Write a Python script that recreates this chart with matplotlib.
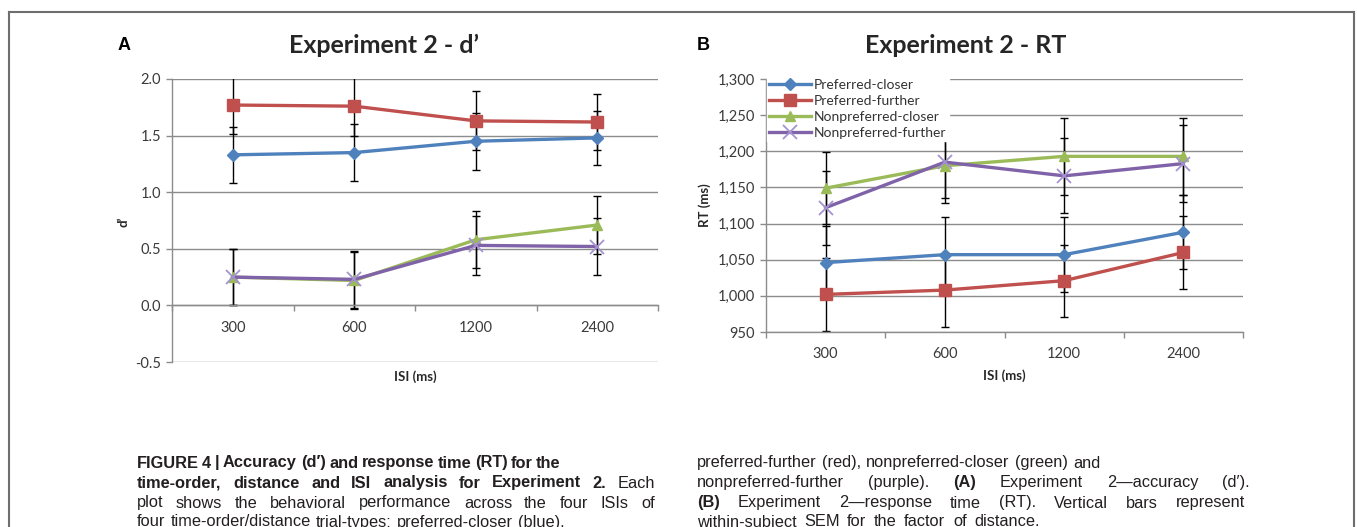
import numpy as np
import matplotlib
matplotlib.use('Agg')
import matplotlib.pyplot as plt
from matplotlib.lines import Line2D
from matplotlib.ticker import FuncFormatter

# ---- data ----
isi = ['300', '600', '1200', '2400']
series = ['Preferred-closer', 'Preferred-further', 'Nonpreferred-closer', 'Nonpreferred-further']

# panel A, d'
d_pc = [1.33, 1.35, 1.45, 1.48]
d_pf = [1.77, 1.76, 1.63, 1.62]
d_nc = [0.25, 0.22, 0.58, 0.71]
d_nf = [0.25, 0.23, 0.53, 0.52]
d_pc_err = [0.25, 0.25, 0.25, 0.24]
d_pf_err = [0.26, 0.26, 0.26, 0.25]
d_nc_err = [0.25, 0.25, 0.25, 0.26]
d_nf_err = [0.25, 0.25, 0.26, 0.25]

# panel B, RT (ms)
rt_pc = [1046, 1057, 1057, 1088]
rt_pf = [1002, 1008, 1021, 1060]
rt_nc = [1149, 1180, 1193, 1193]
rt_nf = [1122, 1185, 1166, 1183]
rt_pc_err = [50, 52, 52, 51]
rt_pf_err = [50, 51, 50, 51]
rt_nc_err = [50, 51, 53, 53]
rt_nf_err = [51, 50, 52, 53]

colors = ['#4F81BD', '#C0504D', '#9BBB59', '#7F62A8']
markers = ['D', 's', '^', 'x']
msizes = [6, 8.5, 7.5, 9.5]
mcolors = ['#4F81BD', '#C0504D', '#9BBB59', '#A593CF']

W, H = 1357, 527
fig = plt.figure(figsize=(W / 100, H / 100), dpi=100)
fig.patch.set_facecolor('white')

def fx(x):
    return x / W

def fy(y):
    return 1 - y / H

def ax_at(x0, y0, x1, y1):
    return fig.add_axes([fx(x0), fy(y1), fx(x1) - fx(x0), fy(y0) - fy(y1)])

chart_font = ['Lato', 'DejaVu Sans']
grey = '#8C8C8C'
tick_col = '#3A3A3A'

def style_axes(ax, ylo, yhi, step, bottom_at):
    x = np.arange(1, len(isi) + 1)
    ax.set_xlim(0.5, len(isi) + 0.5)
    ax.set_ylim(ylo, yhi)
    ax.set_yticks(np.arange(ylo, yhi + step / 2, step))
    ax.set_xticks(x)
    ax.set_xticklabels(isi)
    ax.set_xticks(np.arange(0.5, len(isi) + 1), minor=True)
    ax.tick_params(axis='x', which='major', length=0, pad=11, labelsize=10.5, labelcolor=tick_col)
    ax.tick_params(axis='x', which='minor', length=4, color=grey, width=1)
    ax.tick_params(axis='y', length=4, color=grey, width=1, labelsize=10.5, labelcolor=tick_col, pad=4)
    for s in ['top', 'right']:
        ax.spines[s].set_visible(False)
    ax.spines['left'].set_color(grey)
    ax.spines['bottom'].set_color(grey)
    ax.spines['left'].set_linewidth(1)
    ax.spines['bottom'].set_linewidth(1)
    ax.spines['bottom'].set_position(('data', bottom_at))
    ax.yaxis.grid(True, color=grey, lw=1)
    ax.set_axisbelow(True)
    ax.patch.set_alpha(0)
    for lab in ax.get_xticklabels() + ax.get_yticklabels():
        lab.set_family(chart_font)

def draw(ax, vals, errs):
    x = np.arange(1, len(isi) + 1)
    handles = []
    for i, (v, e) in enumerate(zip(vals, errs)):
        ax.errorbar(x, v, yerr=e, fmt='none', ecolor='black', elinewidth=1,
                    capsize=3.2, capthick=1, zorder=2, clip_on=True)
        h, = ax.plot(x, v, color=colors[i], lw=2.4, marker=markers[i], ms=msizes[i],
                     mfc=mcolors[i], mec=mcolors[i], mew=1.3 if markers[i] == 'x' else 1,
                     zorder=3 + i, label=series[i])
        handles.append(h)
    return handles

# panel A
axA = ax_at(172, 79, 658, 362)
style_axes(axA, -0.5, 2.0, 0.5, 0)
axA.yaxis.set_major_formatter(FuncFormatter(lambda v, p: '%.1f' % v))
draw(axA, [d_pc, d_pf, d_nc, d_nf], [d_pc_err, d_pf_err, d_nc_err, d_nf_err])

# panel B
axB = ax_at(766, 79, 1243, 332)
style_axes(axB, 950, 1300, 50, 950)
axB.yaxis.set_major_formatter(FuncFormatter(lambda v, p: '{:,.0f}'.format(v)))
hB = draw(axB, [rt_pc, rt_pf, rt_nc, rt_nf], [rt_pc_err, rt_pf_err, rt_nc_err, rt_nf_err])
leg = axB.legend(handles=hB, loc='upper left', bbox_to_anchor=(0.0, 1.015), frameon=True,
                 fancybox=False, framealpha=1, facecolor='white', edgecolor='white',
                 prop={'family': chart_font, 'size': 10}, handlelength=3.0,
                 handletextpad=0.2, labelspacing=0.3, borderpad=0.15, borderaxespad=0.1)
leg.set_zorder(10)
for t in leg.get_texts():
    t.set_color('#333333')

# titles, panel letters and axis labels
fig.text(fx(384), fy(45), 'Experiment 2 - d\u2019', ha='center', va='center',
         fontsize=18, fontweight='bold', family=chart_font, color='#262626')
fig.text(fx(966), fy(45), 'Experiment 2 - RT', ha='center', va='center',
         fontsize=18, fontweight='bold', family=chart_font, color='#262626')
fig.text(fx(124), fy(45), 'A', ha='center', va='center', fontsize=13,
         fontweight='bold', family='Liberation Sans')
fig.text(fx(703), fy(45), 'B', ha='center', va='center', fontsize=13,
         fontweight='bold', family='Liberation Sans')
fig.text(fx(123), fy(222), 'd\u2019', rotation=90, ha='center', va='center',
         fontsize=9.5, fontweight='bold', family=chart_font, color='#262626')
fig.text(fx(705), fy(205), 'RT (ms)', rotation=90, ha='center', va='center',
         fontsize=9.5, fontweight='bold', family=chart_font, color='#262626')
fig.text(fx(415), fy(377), 'ISI (ms)', ha='center', va='center',
         fontsize=9.5, fontweight='bold', family=chart_font, color='#262626')
fig.text(fx(1004), fy(376), 'ISI (ms)', ha='center', va='center',
         fontsize=9.5, fontweight='bold', family=chart_font, color='#262626')

# outer frame
for xs, ys in [([9, 1354], [12, 12]), ([9, 9], [12, 527]), ([1354, 1354], [12, 527])]:
    fig.add_artist(Line2D([fx(v) for v in xs], [fy(v) for v in ys],
                          transform=fig.transFigure, color='#6E6E6E', lw=1.5))

# caption, two columns, words spread to each line's width
cap_font = ['Liberation Sans', 'DejaVu Sans']
renderer = fig.canvas.get_renderer()

def put_line(text, x0, x1, y, bold_words=0, bold_set=()):
    words = text.split(' ')
    items = []
    for i, w in enumerate(words):
        b = i < bold_words or w in bold_set
        t = fig.text(0, fy(y + 4.5), w, fontsize=11.8, fontweight='bold' if b else 'normal',
                     family=cap_font, va='baseline', ha='left', color='#231F20')
        items.append(t)
    widths = [t.get_window_extent(renderer).width for t in items]
    gap = (x1 - x0 - sum(widths)) / max(len(items) - 1, 1)
    gap = max(gap, 3.5)
    x = x0
    for t, w in zip(items, widths):
        t.set_x(fx(round(x)))
        x += w + gap

put_line('FIGURE 4 | Accuracy (d\u2032) and response time (RT) for the', 137, 560, 463, bold_words=11)
put_line('time-order, distance and ISI analysis for Experiment 2. Each', 137, 655, 483, bold_words=8)
put_line('plot shows the behavioral performance across the four ISIs of', 137, 655, 503)
put_line('four time-order/distance trial-types: preferred-closer (blue),', 137, 565, 522)
put_line('preferred-further (red), nonpreferred-closer (green) and', 697, 1100, 463)
put_line('nonpreferred-further (purple). (A) Experiment 2\u2014accuracy (d\u2032).', 697, 1250, 483,
         bold_set=('(A)',))
put_line('(B) Experiment 2\u2014response time (RT). Vertical bars represent', 697, 1245, 503,
         bold_set=('(B)',))
put_line('within-subject SEM for the factor of distance.', 697, 1040, 522)

fig.savefig('out.png', dpi=100)
